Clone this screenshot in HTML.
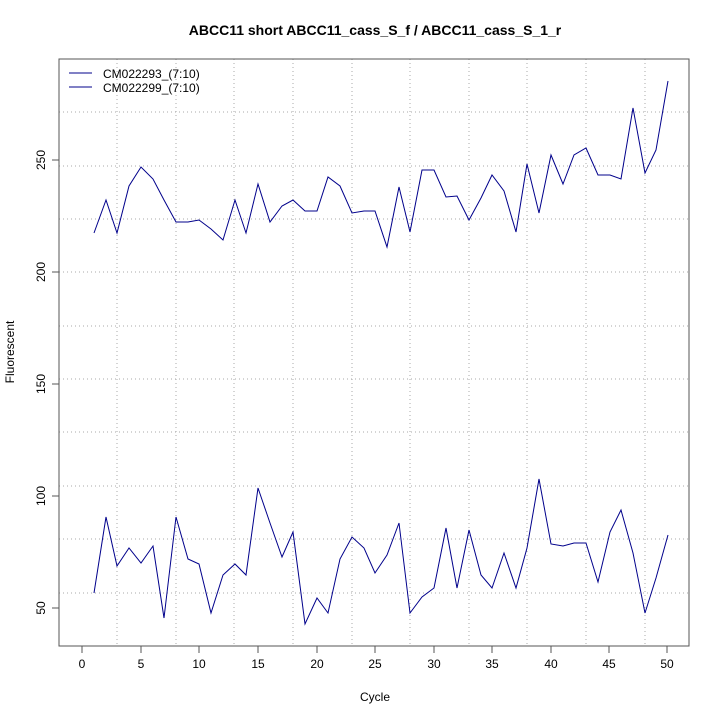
<!DOCTYPE html>
<html><head><meta charset="utf-8"><style>body{margin:0;background:#fff}svg{display:block}</style></head><body>
<svg width="720" height="720" xmlns="http://www.w3.org/2000/svg" font-family="Liberation Sans, sans-serif">
<rect width="720" height="720" fill="#fff"/>
<g stroke="#aaa" stroke-dasharray="1,3" stroke-width="1">
<line x1="117" y1="59" x2="117" y2="645"/><line x1="176" y1="59" x2="176" y2="645"/><line x1="234" y1="59" x2="234" y2="645"/><line x1="293" y1="59" x2="293" y2="645"/><line x1="352" y1="59" x2="352" y2="645"/><line x1="410" y1="59" x2="410" y2="645"/><line x1="469" y1="59" x2="469" y2="645"/><line x1="527" y1="59" x2="527" y2="645"/><line x1="586" y1="59" x2="586" y2="645"/><line x1="645" y1="59" x2="645" y2="645"/>
<line x1="59" y1="112" x2="689" y2="112"/><line x1="59" y1="166" x2="689" y2="166"/><line x1="59" y1="219" x2="689" y2="219"/><line x1="59" y1="272" x2="689" y2="272"/><line x1="59" y1="326" x2="689" y2="326"/><line x1="59" y1="379" x2="689" y2="379"/><line x1="59" y1="432" x2="689" y2="432"/><line x1="59" y1="486" x2="689" y2="486"/><line x1="59" y1="539" x2="689" y2="539"/><line x1="59" y1="593" x2="689" y2="593"/>
</g>
<rect x="59" y="59" width="630" height="587" fill="none" stroke="#555"/>
<g fill="none" stroke="#00008b" stroke-width="1">
<polyline points="94,233 106,200 117,233 129,186 141,167 153,179 164,200 176,222 188,222 199,220 211,229 223,240 235,200 246,233 258,184 270,222 282,206 293,200 305,211 317,211 328,177 340,186 352,213 364,211 375,211 387,247 399,187 410,232 422,170 434,170 446,197 457,196 469,220 481,198 492,175 504,191 516,232 527,164 539,213 551,155 563,184 574,155 586,148 598,175 610,175 621,179 633,108 645,173 656,150 668,81"/>
<polyline points="94,593 106,517 117,566 129,548 141,563 153,546 164,618 176,517 188,559 199,564 211,613 223,575 235,564 246,575 258,488 270,523 282,557 293,532 305,624 317,598 328,613 340,559 352,537 364,548 375,573 387,555 399,523 410,613 422,597 434,588 446,528 457,588 469,530 481,575 492,588 504,553 516,588 527,548 539,479 551,544 563,546 574,543 586,543 598,582 610,532 621,510 633,553 645,613 656,578 668,535"/>
<line x1="69" y1="73" x2="92" y2="73"/><line x1="69" y1="87" x2="92" y2="87"/>
</g>
<g font-size="12" fill="#000">
<text x="103" y="78">CM022293_(7:10)</text><text x="103" y="92">CM022299_(7:10)</text>
</g>
<g stroke="#555"><line x1="82" y1="646" x2="668" y2="646"/>
<line x1="82" y1="646" x2="82" y2="653"/><line x1="141" y1="646" x2="141" y2="653"/><line x1="199" y1="646" x2="199" y2="653"/><line x1="258" y1="646" x2="258" y2="653"/><line x1="317" y1="646" x2="317" y2="653"/><line x1="375" y1="646" x2="375" y2="653"/><line x1="434" y1="646" x2="434" y2="653"/><line x1="492" y1="646" x2="492" y2="653"/><line x1="551" y1="646" x2="551" y2="653"/><line x1="609" y1="646" x2="609" y2="653"/><line x1="667" y1="646" x2="667" y2="653"/>
<line x1="59" y1="160" x2="59" y2="608"/>
<line x1="52" y1="160" x2="59" y2="160"/><line x1="52" y1="272" x2="59" y2="272"/><line x1="52" y1="384" x2="59" y2="384"/><line x1="52" y1="496" x2="59" y2="496"/><line x1="52" y1="608" x2="59" y2="608"/>
</g>
<g font-size="12" text-anchor="middle" fill="#000">
<text x="82" y="668">0</text><text x="141" y="668">5</text><text x="199" y="668">10</text><text x="258" y="668">15</text><text x="317" y="668">20</text><text x="375" y="668">25</text><text x="434" y="668">30</text><text x="492" y="668">35</text><text x="551" y="668">40</text><text x="609" y="668">45</text><text x="667" y="668">50</text>
<text transform="translate(45,160) rotate(-90)">250</text><text transform="translate(45,272) rotate(-90)">200</text><text transform="translate(45,384) rotate(-90)">150</text><text transform="translate(45,496) rotate(-90)">100</text><text transform="translate(45,608) rotate(-90)">50</text>
<text x="375" y="701">Cycle</text>
<text transform="translate(14,352) rotate(-90)">Fluorescent</text>
<text x="375" y="35" font-size="14" font-weight="bold">ABCC11 short ABCC11_cass_S_f / ABCC11_cass_S_1_r</text>
</g>
</svg>
</body></html>
